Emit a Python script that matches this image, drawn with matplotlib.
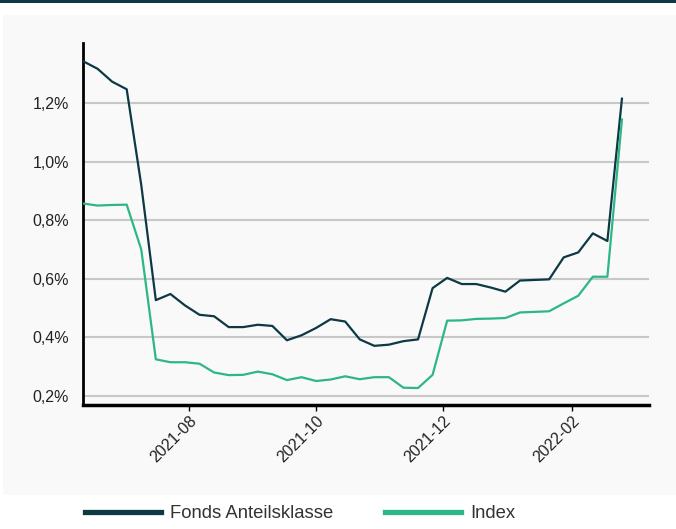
import matplotlib
matplotlib.use('Agg')

import matplotlib.pyplot as plt
import matplotlib.dates as mdates
import matplotlib.ticker as ticker
from matplotlib.lines import Line2D
from matplotlib.patches import Rectangle
import pandas as pd

plt.rcParams['font.family'] = ['Liberation Sans', 'DejaVu Sans']

# weekly observations (Fridays)
dates = pd.date_range('2021-06-11', periods=38, freq='7D')

fonds = [1.343, 1.317, 1.273, 1.247, 0.920, 0.527, 0.548, 0.509, 0.477, 0.472,
         0.435, 0.435, 0.443, 0.439, 0.390, 0.407, 0.432, 0.462, 0.454, 0.393,
         0.371, 0.375, 0.387, 0.393, 0.568, 0.603, 0.582, 0.582, 0.570, 0.556,
         0.594, 0.596, 0.598, 0.673, 0.690, 0.755, 0.729, 1.215]
index = [0.857, 0.850, 0.852, 0.853, 0.700, 0.325, 0.315, 0.315, 0.310, 0.280,
         0.271, 0.272, 0.283, 0.274, 0.254, 0.264, 0.251, 0.256, 0.267, 0.257,
         0.264, 0.264, 0.228, 0.227, 0.272, 0.457, 0.458, 0.463, 0.464, 0.466,
         0.485, 0.487, 0.489, 0.516, 0.542, 0.607, 0.607, 1.144]

series_labels = ['Fonds Anteilsklasse', 'Index']
colors = ['#0c3944', '#2db784']
y_ticks = [0.2, 0.4, 0.6, 0.8, 1.0, 1.2]

W, H = 676, 529
fig = plt.figure(figsize=(W / 100, H / 100), dpi=100)
fig.patch.set_facecolor('white')

# grey panel and dark top rule
fig.patches.append(Rectangle((3 / W, 1 - 495 / H), 1 - 3 / W, 480 / H,
                             transform=fig.transFigure, facecolor='#f9f9f9',
                             edgecolor='none', zorder=-5))
fig.patches.append(Rectangle((0, 1 - 3 / H), 1, 3 / H, transform=fig.transFigure,
                             facecolor='#0c3944', edgecolor='none', zorder=-5))

ax = fig.add_axes([83 / W, 1 - 405 / H, (649 - 83) / W, (405 - 43) / H])
ax.set_facecolor('none')

ax.plot(dates, fonds, color=colors[0], lw=1.6, zorder=3)
ax.plot(dates, index, color=colors[1], lw=1.6, zorder=3)

ax.set_xlim(pd.Timestamp('2021-06-11'), pd.Timestamp('2022-03-10'))
ax.set_ylim(0.169, 1.405)

ax.set_yticks(y_ticks)
ax.yaxis.set_major_formatter(ticker.FuncFormatter(lambda v, p: f'{v:.1f}%'.replace('.', ',')))
ax.xaxis.set_major_locator(mdates.MonthLocator(bymonth=[2, 4, 6, 8, 10, 12]))
ax.xaxis.set_major_formatter(mdates.DateFormatter('%Y-%m'))

ax.grid(axis='y', color='#c8c8c8', lw=1.5, zorder=1)
ax.set_axisbelow(True)

for side in ['top', 'right']:
    ax.spines[side].set_visible(False)
ax.spines['left'].set_linewidth(2)
ax.spines['bottom'].set_linewidth(2.5)

ax.tick_params(axis='y', length=0, pad=10, labelsize=11.5, labelcolor='#222222')
ax.tick_params(axis='x', length=4, width=1, pad=2, labelsize=11.5, labelcolor='#222222')
for lab in ax.get_xticklabels():
    lab.set_rotation(45)
    lab.set_ha('right')
    lab.set_rotation_mode('anchor')

handles = [Line2D([], [], color=c, lw=3.8) for c in colors]
fs = 13.3
px = fs * 100 / 72
fig.legend(handles, series_labels, loc='center left',
           bbox_to_anchor=(85 / W, 1 - 514 / H), ncol=2, frameon=False,
           fontsize=fs, handlelength=76 / px, handletextpad=9 / px,
           columnspacing=52 / px, borderpad=0, borderaxespad=0,
           labelcolor='#333333')

fig.savefig('out.png', dpi=100)
